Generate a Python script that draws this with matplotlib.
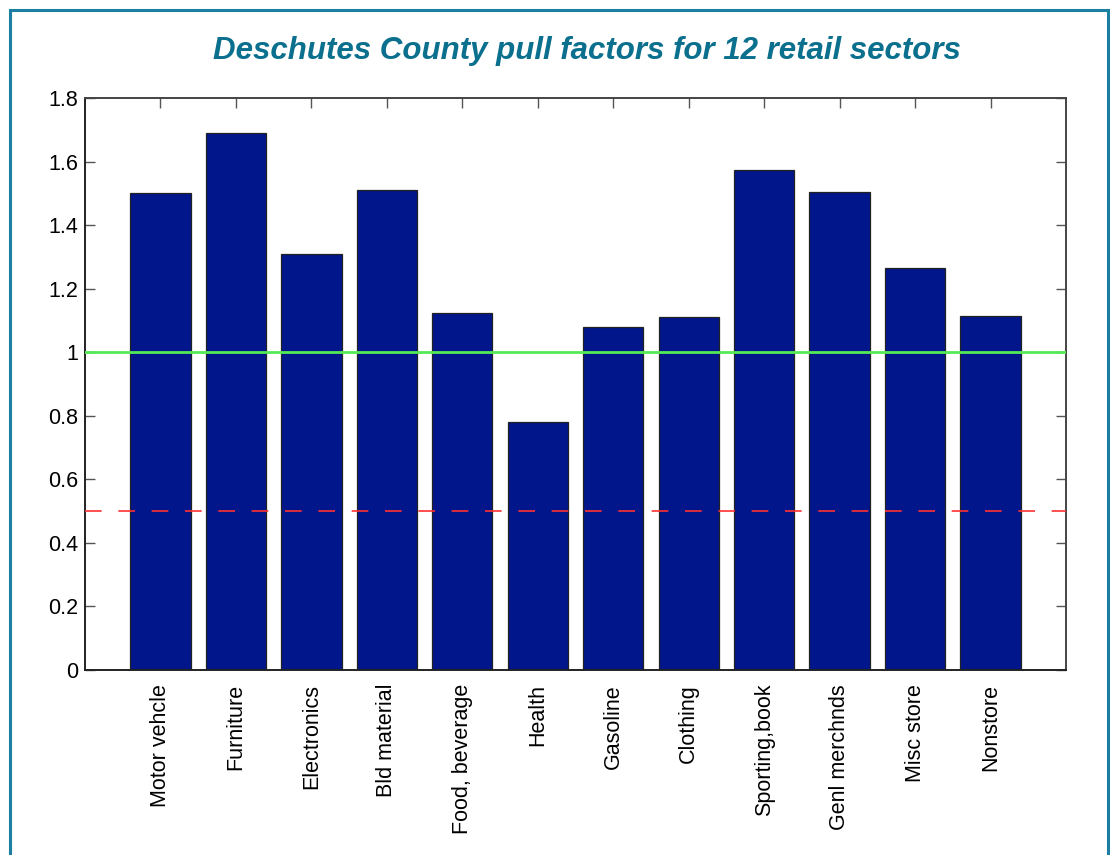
import numpy as np
import matplotlib
matplotlib.use('Agg')
import matplotlib.pyplot as plt
import matplotlib.patches as mpatches

# ── Data ────────────────────────────────────────────────────────────────
sectors = ['Motor vehcle', 'Furniture', 'Electronics', 'Bld material',
           'Food, beverage', 'Health', 'Gasoline', 'Clothing',
           'Sporting,book', 'Genl merchnds', 'Misc store', 'Nonstore']
pull_factors = [1.50, 1.69, 1.31, 1.51, 1.125, 0.78, 1.08, 1.11,
                1.575, 1.505, 1.265, 1.115]
y_ticks = [0, 0.2, 0.4, 0.6, 0.8, 1, 1.2, 1.4, 1.6, 1.8]
y_tick_labels = ['0', '0.2', '0.4', '0.6', '0.8', '1', '1.2', '1.4', '1.6', '1.8']
parity_line = 1.0
leakage_line = 0.5

BAR_COLOUR = '#00168a'
TITLE_COLOUR = '#0b6f8e'
BORDER_COLOUR = '#1a7fa0'

plt.rcParams['font.family'] = ['Liberation Sans', 'DejaVu Sans']

fig = plt.figure(figsize=(11.1, 8.55), dpi=100)
W, H = 1110, 855
ax = fig.add_axes([85 / W, 1 - 670 / H, 981 / W, 572 / H])

# outer teal frame (bottom edge runs off the page)
fig.patches.append(mpatches.Rectangle(
    (10 / W, -0.05), 1098 / W, 1 - 10 / H + 0.05,
    transform=fig.transFigure, fill=False,
    edgecolor=BORDER_COLOUR, linewidth=2.2))

x = np.arange(1, len(sectors) + 1)
ax.bar(x, pull_factors, width=0.8, color=BAR_COLOUR,
       edgecolor='#222222', linewidth=0.9, zorder=2)

ax.axhline(parity_line, color='#55ea55', linewidth=2, zorder=3)
ax.axhline(leakage_line, color='#ff3030', linewidth=1.2,
           linestyle=(0, (10, 10)), zorder=3)

ax.set_xlim(0, len(sectors) + 1)
ax.set_ylim(0, 1.8)
ax.set_yticks(y_ticks)
ax.set_yticklabels(y_tick_labels)
ax.set_xticks(x)
ax.set_xticklabels(sectors, rotation=90)

ax.tick_params(axis='both', direction='in', length=7, width=1,
               color='#555555', labelsize=15.5, top=True, right=True)
ax.tick_params(axis='x', pad=10)
ax.tick_params(axis='y', pad=5)
for side, sp in ax.spines.items():
    sp.set_color('#222222' if side in ('left', 'bottom') else '#444444')
    sp.set_linewidth(1.4)

fig.text(587 / W, 1 - 51 / H, 'Deschutes County pull factors for 12 retail sectors',
         ha='center', va='center', fontsize=22.5, fontweight='bold',
         fontstyle='italic', color=TITLE_COLOUR)

fig.savefig('out.png', dpi=100, facecolor='white')
